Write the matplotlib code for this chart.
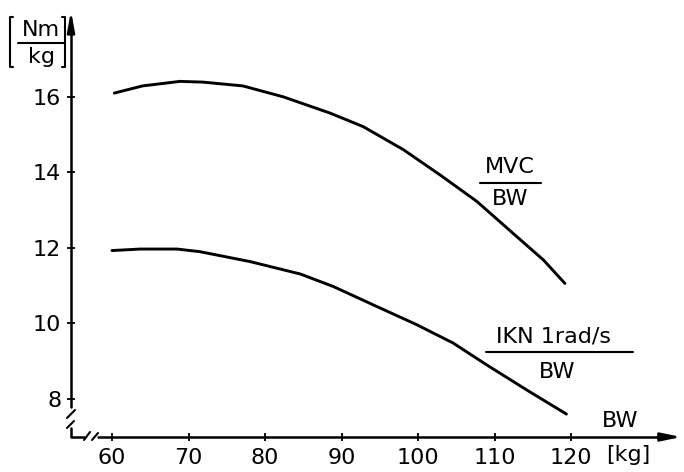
import matplotlib
matplotlib.use("Agg")
import matplotlib.pyplot as plt
from matplotlib.lines import Line2D

# body weight [kg] and torque per body weight [Nm/kg]
bw_mvc = [60.3, 64, 68.9, 71.9, 77.1, 82.4, 88.5, 92.85, 98.1, 102.9, 107.7, 112.4, 116.4, 119.2]
mvc = [16.1, 16.29, 16.41, 16.39, 16.29, 16.0, 15.57, 15.21, 14.6, 13.93, 13.23, 12.39, 11.68, 11.06]

bw_ikn = [60, 63.7, 68.5, 71.5, 78, 84.6, 88.9, 94.6, 99.8, 104.6, 109.0, 114.2, 119.4]
ikn = [11.93, 11.97, 11.97, 11.9, 11.64, 11.31, 10.98, 10.45, 9.97, 9.48, 8.9, 8.24, 7.6]

xticks = [60, 70, 80, 90, 100, 110, 120]
yticks = [8, 10, 12, 14, 16]

W, H = 684, 472
fig = plt.figure(figsize=(W / 100, H / 100), dpi=100)
ax = fig.add_axes([71 / W, 35 / H, (W - 71) / W, (437 - 10) / H])
ax.set_xlim(54.64, 134.77)
ax.set_ylim(6.993, 18.30)
for s in ax.spines.values():
    s.set_visible(False)

ax.plot(bw_mvc, mvc, color="black", lw=2.1, solid_capstyle="round", solid_joinstyle="round")
ax.plot(bw_ikn, ikn, color="black", lw=2.1, solid_capstyle="round", solid_joinstyle="round")

ax.set_xticks(xticks)
ax.set_yticks(yticks)
ax.tick_params(direction="inout", length=6, width=1.3, labelsize=16, pad=4)
ax.tick_params(axis="x", pad=5)


# decorations drawn in pixel coords (origin top-left)
def P(x, y):
    return x / W, 1 - y / H


def seg(pts, lw=1.8):
    xs = [P(*p)[0] for p in pts]
    ys = [P(*p)[1] for p in pts]
    fig.add_artist(Line2D(xs, ys, color="black", lw=lw, transform=fig.transFigure,
                          solid_capstyle="round"))


# y axis with arrow and break
seg([(71, 28), (71, 407)])
seg([(67, 418), (75, 410)], 1.5)
seg([(67, 428), (74, 421)], 1.5)
seg([(71, 428), (71, 437), (84, 437)])
# x axis with break and arrow
seg([(84, 440), (90, 432)], 1.5)
seg([(92, 440), (98, 433)], 1.5)
seg([(98, 437), (664, 437)])
ax.annotate("", xy=P(684, 437), xytext=P(655, 437), xycoords="figure fraction",
            arrowprops=dict(arrowstyle="-|>,head_length=1.2,head_width=0.25",
                            color="black", lw=1.8))
ax.annotate("", xy=P(71, 8), xytext=P(71, 36), xycoords="figure fraction",
            arrowprops=dict(arrowstyle="-|>,head_length=1.2,head_width=0.22",
                            color="black", lw=1.8))

# y unit [Nm/kg]
fig.text(*P(41, 30), "Nm", fontsize=16, ha="center", va="center")
seg([(18, 43), (64, 43)], 1.5)
fig.text(*P(41, 57), "kg", fontsize=16, ha="center", va="center")
seg([(13, 17), (10, 17), (10, 67), (13, 67)], 1.5)
seg([(62, 17), (65, 17), (65, 67), (62, 67)], 1.5)

# curve labels
fig.text(*P(510, 167), "MVC", fontsize=16, ha="center", va="center")
seg([(480, 183), (541, 183)], 1.5)
fig.text(*P(510, 199), "BW", fontsize=16, ha="center", va="center")

fig.text(*P(553, 337), "IKN 1rad/s", fontsize=16, ha="center", va="center")
seg([(486, 352), (633, 352)], 1.5)
fig.text(*P(557, 372), "BW", fontsize=16, ha="center", va="center")

# x axis label
fig.text(*P(620, 421), "BW", fontsize=16, ha="center", va="center")
fig.text(*P(628, 455), "[kg]", fontsize=16, ha="center", va="center")

fig.savefig("out.png", dpi=100)
